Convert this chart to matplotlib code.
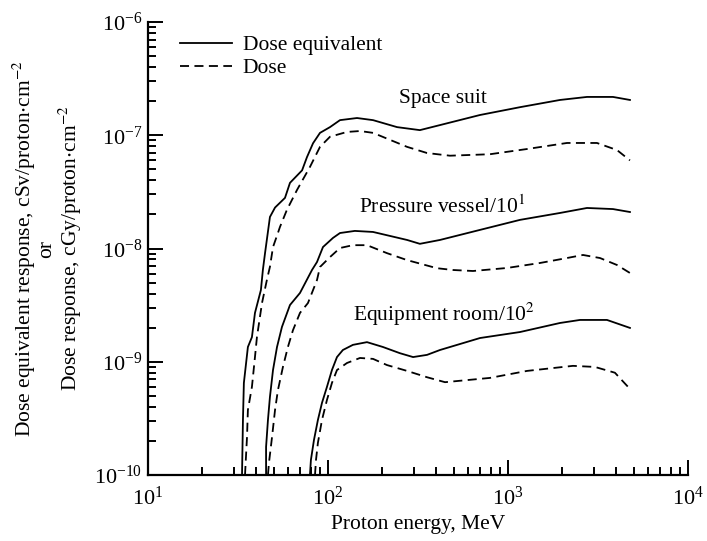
import numpy as np
import matplotlib
matplotlib.use("Agg")
import matplotlib.pyplot as plt

plt.rcParams['font.family'] = ['Liberation Serif', 'DejaVu Serif']
plt.rcParams['mathtext.fontset'] = 'stix'

# proton energy (MeV) and response values for each shielding configuration
suit_de_E = [33.3, 33.7, 34.1, 35.9, 37.8, 39.3, 42.4, 43.5, 44.7, 47.6, 50.8, 57.7, 61.5,
             71.8, 76.4, 82.6, 90.3, 102.6, 116.6, 145, 178, 242, 324, 419, 699, 1166,
             1945, 2747, 3831, 4760]
suit_de = [1.0e-10, 3.06e-10, 6.5e-10, 1.35e-9, 1.65e-9, 2.7e-9, 4.3e-9, 6.5e-9, 9.1e-9,
           1.9e-8, 2.3e-8, 2.8e-8, 3.8e-8, 4.9e-8, 6.4e-8, 8.5e-8, 1.05e-7, 1.18e-7,
           1.36e-7, 1.42e-7, 1.36e-7, 1.18e-7, 1.11e-7, 1.23e-7, 1.51e-7, 1.77e-7,
           2.05e-7, 2.18e-7, 2.18e-7, 2.05e-7]

suit_d_E = [34.6, 35.5, 35.9, 37.8, 39.3, 40.3, 43.0, 45.8, 47.6, 49.5, 52.7, 54.1, 59.1,
            67.3, 79.4, 90.3, 102.6, 127.5, 150.6, 178, 275, 355, 476, 794, 1275, 2127,
            3121, 4034, 4760]
suit_d = [1.0e-10, 2.17e-10, 3.75e-10, 6.0e-10, 1.1e-9, 1.65e-9, 3.3e-9, 5.3e-9, 6.9e-9,
          1.03e-8, 1.37e-8, 1.55e-8, 2.19e-8, 3.29e-8, 5.25e-8, 7.9e-8, 9.7e-8, 1.07e-7,
          1.09e-7, 1.05e-7, 7.9e-8, 6.97e-8, 6.6e-8, 6.8e-8, 7.56e-8, 8.55e-8, 8.55e-8,
          7.4e-8, 6.0e-8]

vessel_de_E = [45.3, 45.3, 46.4, 47.6, 49.5, 52.1, 55.5, 61.5, 69.9, 81.5, 86.9, 93.8,
               106.6, 116.6, 141, 178, 275, 324, 419, 699, 1166, 1945, 2747, 3831, 4760]
vessel_de = [1.0e-10, 1.77e-10, 3.06e-10, 4.9e-10, 8.45e-10, 1.35e-9, 2.03e-9, 3.17e-9,
             4.05e-9, 6.46e-9, 7.6e-9, 1.03e-8, 1.24e-8, 1.37e-8, 1.43e-8, 1.4e-8,
             1.19e-8, 1.10e-8, 1.19e-8, 1.46e-8, 1.79e-8, 2.06e-8, 2.28e-8, 2.23e-8, 2.1e-8]

vessel_d_E = [46.4, 47.0, 48.9, 50.8, 52.7, 56.2, 59.9, 63.9, 69.9, 77.4, 86.9, 90.3,
              102.6, 116.6, 137.6, 164.7, 212.7, 275, 403, 495, 639, 987, 1506, 2127,
              2610, 3245, 4034, 4760]
vessel_d = [1.0e-10, 1.28e-10, 2.17e-10, 3.75e-10, 5.6e-10, 9.0e-10, 1.35e-9, 1.9e-9,
            2.7e-9, 3.3e-9, 5.27e-9, 6.87e-9, 8.4e-9, 1.01e-8, 1.07e-8, 1.07e-8, 9.1e-9,
            7.9e-9, 6.7e-9, 6.46e-9, 6.33e-9, 6.73e-9, 7.45e-9, 8.24e-9, 8.77e-9, 8.24e-9,
            7.15e-9, 6.08e-9]

room_de_E = [79.4, 80.4, 83.6, 87.9, 92.6, 98.7, 105.2, 112.2, 121, 137.6, 164.7, 202,
             251, 297, 355, 419, 699, 1166, 1945, 2512, 3548, 4760]
room_de = [1.0e-10, 1.36e-10, 2.04e-10, 3.06e-10, 4.33e-10, 6.0e-10, 8.45e-10, 1.1e-9,
           1.27e-9, 1.41e-9, 1.49e-9, 1.35e-9, 1.19e-9, 1.1e-9, 1.15e-9, 1.27e-9, 1.62e-9,
           1.83e-9, 2.2e-9, 2.34e-9, 2.34e-9, 1.99e-9]

room_d_E = [84.7, 85.8, 87.9, 92.6, 98.7, 105.2, 112.2, 127.5, 150.6, 178, 212.7, 275,
            355, 447, 794, 1275, 2296, 3040, 3927, 4645]
room_d = [1.0e-10, 1.36e-10, 1.92e-10, 3.06e-10, 4.6e-10, 6.5e-10, 8.45e-10, 9.75e-10,
          1.08e-9, 1.06e-9, 9.35e-10, 8.3e-10, 7.3e-10, 6.6e-10, 7.2e-10, 8.3e-10, 9.2e-10,
          9.0e-10, 8.0e-10, 6.0e-10]

fig = plt.figure(figsize=(7.07, 5.41), dpi=100)
ax = fig.add_axes([0.2093, 0.1220, 0.7638, 0.8373])

lw = 1.3
dash = (0, (5, 3))
l1, = ax.plot(suit_de_E, suit_de, color='black', lw=lw, label='Dose equivalent')
l2, = ax.plot(suit_d_E, suit_d, color='black', lw=lw, ls=dash, label='Dose')
ax.plot(vessel_de_E, vessel_de, color='black', lw=lw)
ax.plot(vessel_d_E, vessel_d, color='black', lw=lw, ls=dash)
ax.plot(room_de_E, room_de, color='black', lw=lw)
ax.plot(room_d_E, room_d, color='black', lw=lw, ls=dash)

ax.set_xscale('log')
ax.set_yscale('log')
ax.set_xlim(10, 1e4)
ax.set_ylim(1e-10, 1e-6)

for side in ['top', 'right']:
    ax.spines[side].set_visible(False)
for side in ['left', 'bottom']:
    ax.spines[side].set_linewidth(1.6)

ax.tick_params(which='both', direction='in', width=1.4, labelsize=16, colors='black')
ax.tick_params(which='major', length=11, pad=8)
ax.tick_params(which='minor', length=6)
ax.tick_params(axis='y', which='major', pad=4)

fs = 15.5
ax.set_xlabel('Proton energy, MeV', fontsize=fs, labelpad=4)
ax.set_ylabel('Dose equivalent response, cSv/proton$\\cdot$cm$^{-2}$\nor\n'
              'Dose response, cGy/proton$\\cdot$cm$^{-2}$', fontsize=fs,
              linespacing=1.0)
ax.yaxis.set_label_coords(-0.119, 0.5)

ax.text(435, 1.75e-7, 'Space suit', fontsize=fs, ha='center', va='bottom')
ax.text(430, 1.85e-8, 'Pressure vessel/10$^{1}$', fontsize=fs, ha='center', va='bottom')
ax.text(444, 2.0e-9, 'Equipment room/10$^{2}$', fontsize=fs, ha='center', va='bottom')

ax.legend(handles=[l1, l2], loc='upper left', bbox_to_anchor=(0.04, 0.995), frameon=False,
          fontsize=fs, handlelength=2.4, handletextpad=0.5, borderpad=0, labelspacing=0.15)

fig.savefig('out.png', dpi=100)
